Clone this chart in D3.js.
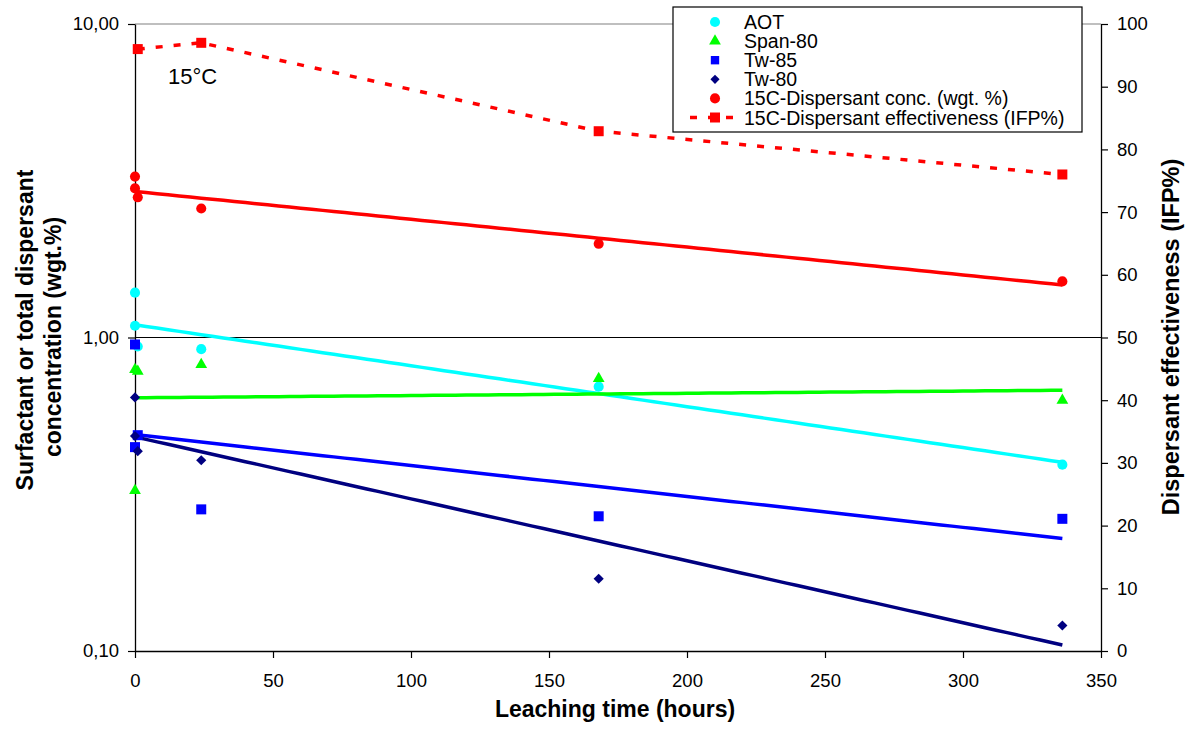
<!DOCTYPE html>
<html>
<head>
<meta charset="utf-8">
<script src="https://cdn.jsdelivr.net/npm/d3@7"></script>
<style>
  html, body { margin: 0; padding: 0; background: #fff; }
  svg { display: block; font-family: "Liberation Sans", Arial, sans-serif; }
</style>
</head>
<body>
<svg id="chart" width="1193" height="729"></svg>
<script>
// Leaching time (hours) for each sample
const aotHours    = [0, 0, 1, 24, 168, 336];
const aotConc     = [1.39, 1.09, 0.936, 0.918, 0.697, 0.393];

const spanHours   = [0, 1, 0, 24, 168, 336];
const spanConc    = [0.79, 0.78, 0.325, 0.82, 0.74, 0.63];

const tw85Hours   = [0, 0, 1, 24, 168, 336];
const tw85Conc    = [0.95, 0.447, 0.488, 0.283, 0.269, 0.264];

const tw80Hours   = [0, 0, 1, 24, 168, 336];
const tw80Conc    = [0.644, 0.485, 0.434, 0.406, 0.170, 0.1206];

const dispHours   = [0, 0, 1, 24, 168, 336];
const dispConc    = [3.26, 2.99, 2.80, 2.58, 1.99, 1.51];

// Dispersant effectiveness (IFP%) on the right axis
const ifpHours    = [1, 24, 168, 336];
const ifpValues   = [96, 97, 82.9, 76];

const xTicks      = [0, 50, 100, 150, 200, 250, 300, 350];
const yLeftTicks  = [0.1, 1, 10];
const yRightTicks = [0, 10, 20, 30, 40, 50, 60, 70, 80, 90, 100];

const legendLabels = ["AOT", "Span-80", "Tw-85", "Tw-80",
  "15C-Dispersant conc. (wgt. %)", "15C-Dispersant effectiveness (IFP%)"];

const svg = d3.select("#chart");
const L = 135, R = 1101, T = 24, B = 651;

const x  = d3.scaleLinear().domain([0, 350]).range([L, R]);
const y  = d3.scaleLog().domain([0.1, 10]).range([B, T]);
const y2 = d3.scaleLinear().domain([0, 100]).range([B, T]);

// Frame: grey top border, black gridline at 1.00
svg.append("line").attr("x1", L).attr("x2", R).attr("y1", T).attr("y2", T)
  .attr("stroke", "#808080").attr("stroke-width", 1.2);
svg.append("line").attr("x1", L).attr("x2", R).attr("y1", y(1)).attr("y2", y(1))
  .attr("stroke", "#000").attr("stroke-width", 1.2);

// Axes
const fmtComma = d => d.toFixed(2).replace(".", ",");
const gx = svg.append("g").attr("transform", `translate(0,${B})`)
  .call(d3.axisBottom(x).tickValues(xTicks).tickSize(7).tickSizeOuter(0).tickPadding(16));
const gy = svg.append("g").attr("transform", `translate(${L},0)`)
  .call(d3.axisLeft(y).tickValues(yLeftTicks).tickFormat(fmtComma).tickSize(7).tickSizeOuter(0).tickPadding(9));
const gy2 = svg.append("g").attr("transform", `translate(${R},0)`)
  .call(d3.axisRight(y2).tickValues(yRightTicks).tickFormat(d3.format("d")).tickSize(7).tickSizeOuter(0).tickPadding(9));

[gx, gy, gy2].forEach(g => {
  g.selectAll("path.domain").attr("stroke", "#000").attr("stroke-width", 1.3);
  g.selectAll(".tick line").attr("stroke", "#000").attr("stroke-width", 1.2);
  g.selectAll(".tick text").attr("font-size", 18.5).attr("fill", "#000")
    .attr("font-family", "Liberation Sans, Arial, sans-serif");
});

// Axis titles
svg.append("text").attr("x", 615).attr("y", 717).attr("text-anchor", "middle")
  .attr("font-size", 23).attr("font-weight", "bold").text("Leaching time (hours)");
svg.append("text").attr("transform", "translate(33,330) rotate(-90)")
  .attr("text-anchor", "middle").attr("font-size", 23).attr("font-weight", "bold")
  .text("Surfactant or total dispersant");
svg.append("text").attr("transform", "translate(61,337) rotate(-90)")
  .attr("text-anchor", "middle").attr("font-size", 23).attr("font-weight", "bold")
  .text("concentration (wgt.%)");
svg.append("text").attr("transform", "translate(1179,337) rotate(-90)")
  .attr("text-anchor", "middle").attr("font-size", 23.5).attr("font-weight", "bold")
  .text("Dispersant effectiveness (IFP%)");

svg.append("text").attr("x", 168).attr("y", 84).attr("font-size", 22).text("15°C");

// Exponential trendline fitted by least squares on ln(y)
function expFit(xs, ys) {
  const ly = ys.map(Math.log);
  const mx = d3.mean(xs), my = d3.mean(ly);
  let sxy = 0, sxx = 0;
  xs.forEach((xv, i) => { sxy += (xv - mx) * (ly[i] - my); sxx += (xv - mx) * (xv - mx); });
  const b = sxy / sxx, a = my - b * mx;
  return xv => Math.exp(a + b * xv);
}

const symCircle   = d3.symbol().type(d3.symbolCircle).size(80);
const symTriangle = d3.symbol().type(d3.symbolTriangle).size(60);
const symSquare   = d3.symbol().type(d3.symbolSquare).size(100);
const symDiamond  = d3.symbol().type(d3.symbolSquare).size(52);

const series = [
  { hours: aotHours,  vals: aotConc,  color: "#00FFFF", sym: symCircle,   rot: 0 },
  { hours: spanHours, vals: spanConc, color: "#00FF00", sym: symTriangle, rot: 0 },
  { hours: tw85Hours, vals: tw85Conc, color: "#0000FF", sym: symSquare,   rot: 0 },
  { hours: tw80Hours, vals: tw80Conc, color: "#000080", sym: symDiamond,  rot: 45 },
  { hours: dispHours, vals: dispConc, color: "#FF0000", sym: symCircle,   rot: 0 }
];

const line = d3.line().x(d => x(d[0])).y(d => y(d[1]));

series.forEach(s => {
  const f = expFit(s.hours, s.vals);
  const x0 = d3.min(s.hours), x1 = d3.max(s.hours);
  const pts = d3.range(x0, x1, 4).concat([x1]).map(h => [h, f(h)]);
  svg.append("path").datum(pts).attr("d", line).attr("fill", "none")
    .attr("stroke", s.color).attr("stroke-width", 3.5);
});

series.forEach(s => {
  svg.append("g").selectAll("path").data(s.hours.map((h, i) => [h, s.vals[i]])).join("path")
    .attr("d", s.sym)
    .attr("transform", d => `translate(${x(d[0])},${y(d[1])}) rotate(${s.rot})`)
    .attr("fill", s.color);
});

// Dispersant effectiveness (right axis)
const ifpPts = ifpHours.map((h, i) => [h, ifpValues[i]]);
svg.append("path").datum(ifpPts)
  .attr("d", d3.line().x(d => x(d[0])).y(d => y2(d[1])))
  .attr("fill", "none").attr("stroke", "#FF0000").attr("stroke-width", 3.5)
  .attr("stroke-dasharray", "7,11");
svg.append("g").selectAll("path").data(ifpPts).join("path")
  .attr("d", symSquare)
  .attr("transform", d => `translate(${x(d[0])},${y2(d[1])})`)
  .attr("fill", "#FF0000");

// Legend
const lg = svg.append("g");
lg.append("rect").attr("x", 673).attr("y", 7).attr("width", 409).attr("height", 125)
  .attr("fill", "#fff").attr("stroke", "#000").attr("stroke-width", 1.2);
const legendSyms = [
  { sym: symCircle, color: "#00FFFF", rot: 0 },
  { sym: symTriangle, color: "#00FF00", rot: 0 },
  { sym: d3.symbol().type(d3.symbolSquare).size(70), color: "#0000FF", rot: 0 },
  { sym: d3.symbol().type(d3.symbolSquare).size(42), color: "#000080", rot: 45 },
  { sym: symCircle, color: "#FF0000", rot: 0 },
  { sym: symSquare, color: "#FF0000", rot: 0, dashed: true }
];
legendLabels.forEach((label, i) => {
  const cy = 22 + i * 19.1;
  const m = legendSyms[i];
  if (m.dashed) {
    lg.append("line").attr("x1", 690).attr("x2", 734).attr("y1", cy).attr("y2", cy)
      .attr("stroke", m.color).attr("stroke-width", 3.5).attr("stroke-dasharray", "7,11");
  }
  lg.append("path").attr("d", m.sym)
    .attr("transform", `translate(715,${cy}) rotate(${m.rot})`).attr("fill", m.color);
  lg.append("text").attr("x", 744).attr("y", cy + 7).attr("font-size", 19.5).text(label);
});
</script>
</body>
</html>
